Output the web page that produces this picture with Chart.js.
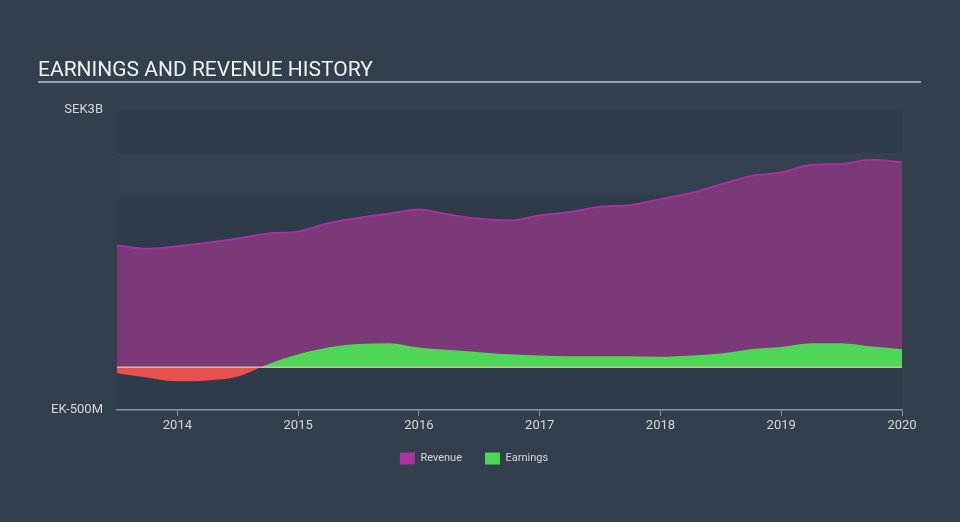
<!DOCTYPE html>
<html>
<head>
<meta charset="utf-8">
<script src="https://cdn.jsdelivr.net/npm/chart.js@4/dist/chart.umd.min.js"></script>
<style>
  html, body { margin: 0; padding: 0; background: #333f4d; }
  #wrap { width: 960px; height: 522px; position: relative; }
</style>
</head>
<body>
<div id="wrap"><canvas id="historyChart" width="960" height="522"></canvas></div>
<script>
// quarterly dates (decimal years) and values in SEK billions
const periods = [2013.5, 2013.75, 2014.0, 2014.25, 2014.5, 2014.75, 2015.0, 2015.25, 2015.5,
    2015.75, 2016.0, 2016.25, 2016.5, 2016.75, 2017.0, 2017.25, 2017.5, 2017.75, 2018.0,
    2018.25, 2018.5, 2018.75, 2019.0, 2019.25, 2019.5, 2019.75, 2020.0];
const revenue = [1.42, 1.38, 1.41, 1.45, 1.50, 1.56, 1.58, 1.68, 1.74,
    1.79, 1.84, 1.78, 1.73, 1.71, 1.77, 1.81, 1.87, 1.89, 1.96,
    2.03, 2.13, 2.23, 2.27, 2.36, 2.37, 2.42, 2.39];
const earnings = [-0.07, -0.12, -0.165, -0.155, -0.11, 0.035, 0.15, 0.23, 0.27,
    0.28, 0.23, 0.20, 0.175, 0.15, 0.135, 0.126, 0.126, 0.126, 0.12,
    0.135, 0.16, 0.21, 0.235, 0.28, 0.28, 0.24, 0.21];
const yearTicks = [2014, 2015, 2016, 2017, 2018, 2019, 2020];
const valueTicks = [-0.5, 3];
const valueTickLabels = { '-0.5': 'EK-500M', '3': 'SEK3B' };

function toPoints(values) {
    return values.map((v, i) => ({ x: periods[i], y: v }));
}

// plot background bands, title and zero line
const decorations = {
    id: 'decorations',
    beforeDraw(chart) {
        const ctx = chart.ctx;
        const area = chart.chartArea;
        const y = chart.scales.y;
        ctx.save();
        ctx.fillStyle = '#2e3b4a';
        ctx.fillRect(area.left, area.top, area.right - area.left, area.bottom - area.top);
        ctx.fillStyle = '#334150';
        const b1 = y.getPixelForValue(2.5), b2 = y.getPixelForValue(2.0);
        ctx.fillRect(area.left, b1, area.right - area.left, b2 - b1);
        // title
        ctx.fillStyle = '#f0f0f0';
        ctx.font = '21px Roboto';
        ctx.textBaseline = 'alphabetic';
        ctx.fillText('EARNINGS AND REVENUE HISTORY', 38, 76);
        ctx.strokeStyle = '#9aa3ad';
        ctx.lineWidth = 2;
        ctx.beginPath();
        ctx.moveTo(38, 82);
        ctx.lineTo(921, 82);
        ctx.stroke();
        ctx.restore();
    },
    afterDatasetsDraw(chart) {
        const ctx = chart.ctx;
        const area = chart.chartArea;
        const zero = chart.scales.y.getPixelForValue(0);
        ctx.save();
        ctx.strokeStyle = '#c4c2a4';
        ctx.lineWidth = 1.5;
        ctx.beginPath();
        ctx.moveTo(area.left, zero);
        ctx.lineTo(area.right, zero);
        ctx.stroke();
        ctx.restore();
    }
};

const ctx = document.getElementById('historyChart').getContext('2d');
const chart = new Chart(ctx, {
    type: 'line',
    data: {
        datasets: [{
            label: 'Revenue',
            data: toPoints(revenue),
            borderColor: '#a8329c',
            backgroundColor: '#7b3977',
            borderWidth: 2,
            pointRadius: 0,
            cubicInterpolationMode: 'monotone',
            fill: 'origin',
            order: 1
        }, {
            label: 'Earnings',
            data: toPoints(earnings),
            borderColor: 'rgba(0,0,0,0)',
            backgroundColor: '#50d656',
            borderWidth: 0,
            pointRadius: 0,
            cubicInterpolationMode: 'monotone',
            fill: { target: 'origin', above: '#50d656', below: '#ea5050' },
            order: 0
        }]
    },
    options: {
        responsive: false,
        animation: false,
        layout: { padding: { top: 110, right: 12, bottom: 47.5, left: 0 } },
        plugins: {
            tooltip: { enabled: false },
            legend: {
                position: 'bottom',
                labels: {
                    color: '#d4d6d9',
                    font: { family: 'Roboto', size: 11 },
                    boxWidth: 15,
                    boxHeight: 12,
                    padding: 23,
                    sort: (a, b) => a.datasetIndex - b.datasetIndex,
                    generateLabels: function (c) {
                        const fills = ['#a8359c', '#50d656'];
                        return c.data.datasets.map((ds, i) => ({
                            text: ds.label,
                            fillStyle: fills[i],
                            strokeStyle: fills[i],
                            lineWidth: 0,
                            fontColor: '#d4d6d9',
                            datasetIndex: i
                        }));
                    }
                }
            }
        },
        scales: {
            x: {
                type: 'linear',
                min: 2013.5,
                max: 2020.0,
                afterBuildTicks: s => { s.ticks = yearTicks.map(v => ({ value: v })); },
                afterFit: s => { s.height = 19.5; },
                grid: { drawOnChartArea: false, color: '#8a96a3', tickLength: 6 },
                border: { color: '#8a96a3', width: 1.5 },
                ticks: {
                    color: '#d4d6d9',
                    font: { family: 'Roboto', size: 13 },
                    padding: 2,
                    maxRotation: 0,
                    callback: v => String(v)
                }
            },
            y: {
                min: -0.5,
                max: 3,
                afterBuildTicks: s => { s.ticks = valueTicks.map(v => ({ value: v })); },
                afterFit: s => { s.width = 117; },
                grid: { display: false, drawTicks: false },
                border: { display: false },
                ticks: {
                    color: '#d4d6d9',
                    font: { family: 'Roboto', size: 13 },
                    padding: 14,
                    callback: v => valueTickLabels[String(v)]
                }
            },
            // empty right-hand spacer so the plot ends where the reference does
            spacer: {
                type: 'linear',
                position: 'right',
                afterFit: s => { s.width = 46; },
                grid: { display: false, drawTicks: false },
                border: { display: false },
                ticks: { display: false }
            }
        }
    },
    plugins: [decorations]
});
</script>
</body>
</html>
